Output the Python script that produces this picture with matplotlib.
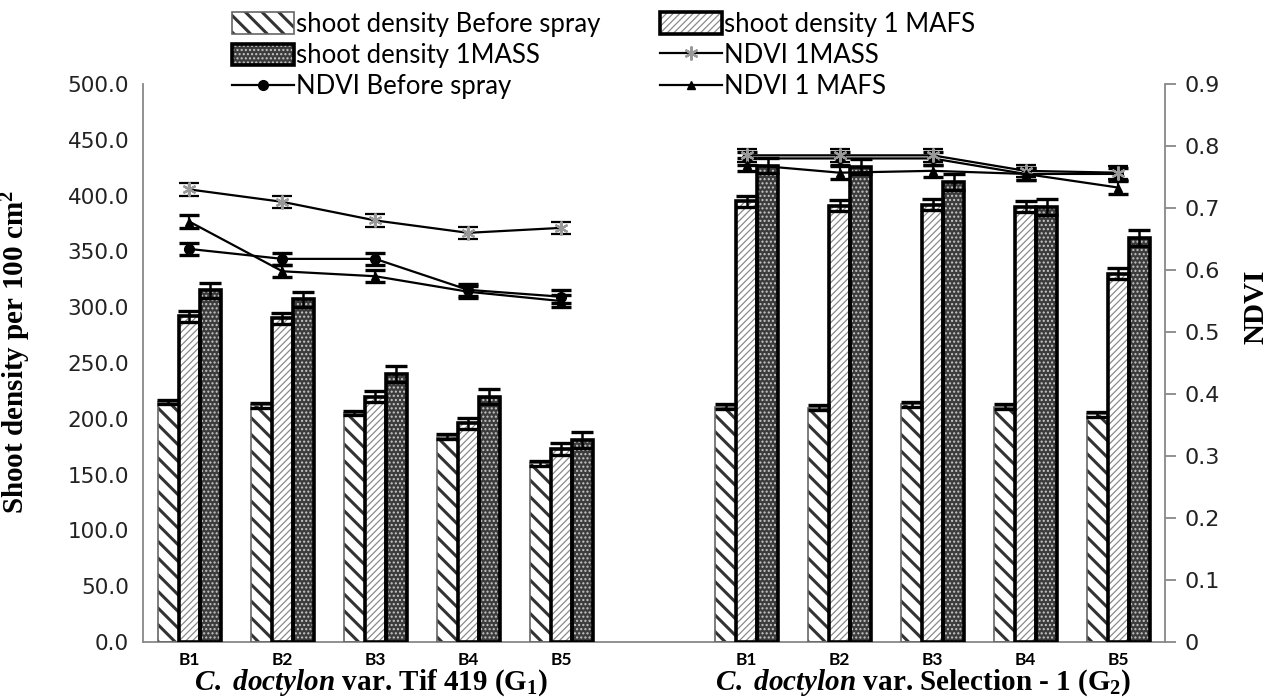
import matplotlib
matplotlib.use('Agg')
import matplotlib.pyplot as plt
import numpy as np
from matplotlib.lines import Line2D
from matplotlib.patches import Patch, Rectangle

plt.rcParams['mathtext.fontset'] = 'custom'
plt.rcParams['mathtext.rm'] = 'Liberation Serif:bold'
plt.rcParams['mathtext.it'] = 'Liberation Serif:italic:bold'
plt.rcParams['mathtext.bf'] = 'Liberation Serif:bold'

# ---------------- data ----------------
blocks = ['B1', 'B2', 'B3', 'B4', 'B5']
group_labels = [r'$\mathit{C.\ doctylon}$ var. Tif 419 (G$_{1}$)',
                r'$\mathit{C.\ doctylon}$ var. Selection - 1 (G$_{2}$)']

# shoot density (per 100 cm2)
sd_before_g1 = [215, 212, 205, 184, 160]
sd_mafs_g1 = [292, 290, 220, 196, 173]
sd_mass_g1 = [315, 307, 240, 220, 181]
sd_before_g2 = [211, 210, 213, 211, 204]
sd_mafs_g2 = [395, 391, 392, 390, 330]
sd_mass_g2 = [427, 426, 412, 390, 362]
sd_before_err = [2, 2, 2, 2, 2]
sd_mafs_err = [5, 5, 5, 5, 5]
sd_mass_err = [7, 7, 7, 7, 7]

# NDVI
ndvi_before_g1 = [0.634, 0.618, 0.618, 0.568, 0.557]
ndvi_mass_g1 = [0.730, 0.710, 0.680, 0.660, 0.668]
ndvi_mafs_g1 = [0.678, 0.598, 0.590, 0.565, 0.550]
ndvi_before_g2 = [0.780, 0.780, 0.780, 0.755, 0.755]
ndvi_mass_g2 = [0.785, 0.785, 0.785, 0.760, 0.757]
ndvi_mafs_g2 = [0.770, 0.757, 0.760, 0.755, 0.733]
ndvi_err = [0.01, 0.01, 0.01, 0.01, 0.01]

legend_labels = ['shoot density Before spray', 'shoot density 1MASS', 'NDVI Before spray',
                 'shoot density 1 MAFS', 'NDVI 1MASS', 'NDVI 1 MAFS']

# ---------------- figure ----------------
fig = plt.figure(figsize=(12.71, 6.98), dpi=100)
ax = fig.add_axes([0.1125, 0.0802, 0.804, 0.7994])
ax2 = ax.twinx()

x_g1 = np.arange(5)
x_g2 = np.arange(6, 11)
w = 0.226


def hatched_bars(x, vals, face, hcolor, hatch, hlw, ecolor, elw):
    fill = ax.bar(x, vals, w, facecolor=face, edgecolor=hcolor, hatch=hatch, linewidth=0, zorder=2)
    for p in fill:
        if hasattr(p, 'set_hatch_linewidth'):
            p.set_hatch_linewidth(hlw)
    ax.bar(x, vals, w, fill=False, edgecolor=ecolor, linewidth=elw, zorder=3)


styles = {
    'before': dict(face='white', hcolor='#333333', hatch='\\\\', hlw=2.2, ecolor='#666666', elw=1.2),
    'mafs': dict(face='white', hcolor='#8a8a8a', hatch='/////', hlw=0.9, ecolor='black', elw=2.6),
    'mass': dict(face='#3c3c3c', hcolor='#c8c8c8', hatch='....', hlw=1.0, ecolor='black', elw=2.6),
}

for xs, bef, mafs, mass in [(x_g1, sd_before_g1, sd_mafs_g1, sd_mass_g1),
                            (x_g2, sd_before_g2, sd_mafs_g2, sd_mass_g2)]:
    for off, vals, err, key in [(-w, bef, sd_before_err, 'before'),
                                (0, mafs, sd_mafs_err, 'mafs'),
                                (w, mass, sd_mass_err, 'mass')]:
        hatched_bars(xs + off, vals, **styles[key])
        ax.errorbar(xs + off, vals, yerr=err, fmt='none', ecolor='black',
                    elinewidth=1.8, capsize=8, capthick=2.4, zorder=4)

# NDVI lines
line_styles = {
    'before': dict(marker='o', ms=7, mfc='black', mec='black'),
    'mass': dict(marker=(6, 2, 0), ms=10, mfc='#999999', mec='#999999', mew=1.6),
    'mafs': dict(marker='^', ms=6, mfc='black', mec='black'),
}
for xs, bef, mass, mafs in [(x_g1, ndvi_before_g1, ndvi_mass_g1, ndvi_mafs_g1),
                            (x_g2, ndvi_before_g2, ndvi_mass_g2, ndvi_mafs_g2)]:
    for vals, key in [(bef, 'before'), (mass, 'mass'), (mafs, 'mafs')]:
        ax2.errorbar(xs, vals, yerr=ndvi_err, color='black', lw=1.6, ecolor='black',
                     elinewidth=1.6, capsize=7.5, capthick=2.4, **line_styles[key])

# axes formatting
ax.set_xlim(-0.5, 10.5)
ax.set_ylim(0, 500)
ax2.set_ylim(0, 0.9)
ax.set_yticks(np.arange(0, 501, 50))
ax.set_yticklabels([f'{v:.1f}' for v in np.arange(0, 501, 50)])
r_ticks = np.round(np.arange(0, 0.91, 0.1), 1)
ax2.set_yticks(r_ticks)
ax2.set_yticklabels([f'{v:g}' for v in r_ticks])
ax.set_xticks(list(x_g1) + list(x_g2))
ax.set_xticklabels(blocks + blocks, fontfamily='Lato', fontweight='bold', fontsize=12.5)

for a in (ax, ax2):
    a.spines['top'].set_visible(False)
ax.spines['right'].set_visible(False)
ax2.spines['left'].set_visible(False)
ax2.spines['bottom'].set_visible(False)
for a, s in [(ax, 'left'), (ax, 'bottom'), (ax2, 'right')]:
    a.spines[s].set_color('#888888')
    a.spines[s].set_linewidth(1.3)

ax.tick_params(axis='y', length=0, pad=10, labelsize=15.5, labelcolor='#222222')
ax.tick_params(axis='x', length=0, pad=7)
ax2.tick_params(axis='y', length=8, width=1.3, color='#888888', pad=6, labelsize=16,
                labelcolor='#222222')
for t in ax.get_yticklabels() + ax2.get_yticklabels():
    t.set_fontfamily('DejaVu Sans')

ax.set_ylabel('Shoot density per 100 cm$^{2}$', fontfamily='Liberation Serif', fontweight='bold',
              fontsize=21)
ax.yaxis.set_label_coords(-0.108, 0.52)
ax2.set_ylabel('NDVI', fontfamily='Liberation Serif', fontweight='bold', fontsize=21,
               rotation=90)
ax2.yaxis.set_label_coords(1.076, 0.60)

for cx, lab in [(x_g1.mean() - 0.05, group_labels[0]), (x_g2.mean() - 0.1, group_labels[1])]:
    ax.text(cx, -0.086, lab, transform=ax.get_xaxis_transform(), ha='center', va='baseline',
            fontfamily='Liberation Serif', fontweight='bold', fontsize=21)

# legend
def bar_handle(key):
    st = styles[key]
    fillp = Patch(facecolor=st['face'], edgecolor=st['hcolor'], hatch=st['hatch'], linewidth=0)
    outline = Patch(fill=False, edgecolor=st['ecolor'], linewidth=st['elw'])
    return (fillp, outline)


def line_handle(key):
    return Line2D([], [], color='black', lw=1.6, **line_styles[key])

handles = [bar_handle('before'), bar_handle('mass'), line_handle('before'),
           bar_handle('mafs'), line_handle('mass'), line_handle('mafs')]
leg = fig.legend(handles, legend_labels, loc='upper center', bbox_to_anchor=(0.475, 1.016), ncol=2,
                 frameon=False, prop={'family': 'Lato', 'size': 18.5}, columnspacing=2.3,
                 handlelength=2.4, handleheight=0.9, handletextpad=0.1, labelspacing=0.24)

# make legend hatch line widths match the bars
hatch_lw = {st['hatch']: st['hlw'] for st in styles.values()}
for r in leg.findobj(Rectangle):
    h = r.get_hatch()
    if h in hatch_lw and hasattr(r, 'set_hatch_linewidth'):
        r.set_hatch_linewidth(hatch_lw[h])

fig.savefig('out.png', dpi=100)
